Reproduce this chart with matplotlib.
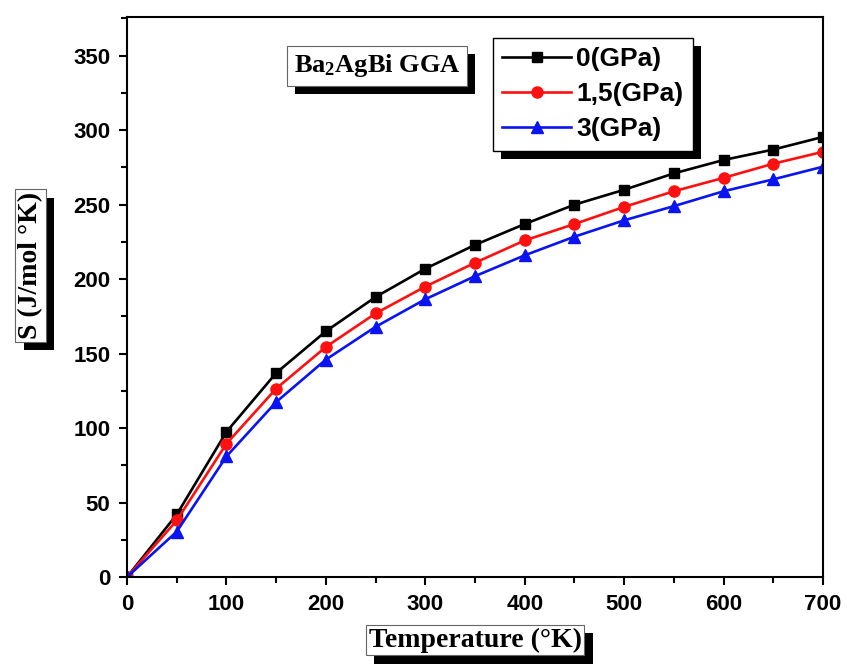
import numpy as np
import matplotlib
matplotlib.use("Agg")
import matplotlib.pyplot as plt
import matplotlib.patheffects as pe
from matplotlib.ticker import MultipleLocator

# entropia vs temperatura para Ba2AgBi (GGA) a tres presiones
temp = [0, 50, 100, 150, 200, 250, 300, 350, 400, 450, 500, 550, 600, 650, 700]
s_0gpa = [0, 42, 97.5, 137, 165, 188, 207, 223, 237, 250, 260, 271, 280, 287, 295.5]
s_15gpa = [0, 38, 89.5, 126.5, 154.5, 177, 195, 211, 226, 237, 248.5, 259, 268, 277.5, 285.5]
s_3gpa = [0, 30.5, 81, 117.5, 146, 168, 186.5, 202, 216, 228.5, 239.5, 249, 259, 267, 275.5]
etiquetas = ["0(GPa)", "1,5(GPa)", "3(GPa)"]

plt.rcParams["mathtext.fontset"] = "custom"
plt.rcParams["mathtext.rm"] = "Liberation Serif:bold"
plt.rcParams["mathtext.default"] = "rm"

SANS = "Liberation Sans"
SERIF = "Liberation Serif"
sombra = [pe.SimplePatchShadow(offset=(6, -6), shadow_rgbFace="k", alpha=1), pe.Normal()]

fig = plt.figure(figsize=(8.47, 6.64), dpi=100)
ax = fig.add_axes([0.15, 0.131, 0.8217, 0.8434])

ax.plot(temp, s_0gpa, color="k", lw=1.9, marker="s", ms=7.5, label=etiquetas[0])
ax.plot(temp, s_15gpa, color="#ff1010", lw=1.9, marker="o", ms=8, label=etiquetas[1])
ax.plot(temp, s_3gpa, color="#0a14f0", lw=1.9, marker="^", ms=8.5, label=etiquetas[2])

ax.set_xlim(0, 700)
ax.set_ylim(0, 376)
ax.xaxis.set_major_locator(MultipleLocator(100))
ax.xaxis.set_minor_locator(MultipleLocator(50))
ax.yaxis.set_major_locator(MultipleLocator(50))
ax.yaxis.set_minor_locator(MultipleLocator(25))
ax.tick_params(which="both", direction="out", top=False, right=False, width=1.5)
ax.tick_params(which="major", length=6, pad=6)
ax.tick_params(which="minor", length=4)
for lab in ax.get_xticklabels() + ax.get_yticklabels():
    lab.set_fontfamily(SANS)
    lab.set_fontweight("bold")
    lab.set_fontsize(16)
for sp in ax.spines.values():
    sp.set_linewidth(1.5)

# etiquetas de ejes en cajas con sombra
xl = fig.text(0.561, 0.036, "Temperature (°K)", family=SERIF, weight="bold", fontsize=20,
              ha="center", va="center",
              bbox=dict(boxstyle="square,pad=0.1", fc="white", ec="0.4", lw=0.8))
yl = fig.text(0.036, 0.60, "S (J/mol °K)", family=SERIF, weight="bold", fontsize=20,
              ha="center", va="center", rotation=90,
              bbox=dict(boxstyle="square,pad=0.1", fc="white", ec="0.4", lw=0.8))
tt = ax.text(0.359, 0.9125, "Ba$_2$AgBi GGA", transform=ax.transAxes, family=SERIF,
             weight="bold", fontsize=19, ha="center", va="center",
             bbox=dict(boxstyle="square,pad=0.25", fc="white", ec="0.4", lw=0.8))
for t in (xl, yl, tt):
    t.get_bbox_patch().set_path_effects(sombra)

leg = ax.legend(loc="upper left", bbox_to_anchor=(0.526, 0.9625), fancybox=False,
                edgecolor="k", framealpha=1, borderpad=0.35, labelspacing=0.42,
                handlelength=2.6, handletextpad=0.2, borderaxespad=0,
                prop=dict(family=SANS, weight="bold", size=19))
leg.get_frame().set_linewidth(1.0)
leg.get_frame().set_path_effects(sombra)

fig.savefig("out.png", dpi=100)
